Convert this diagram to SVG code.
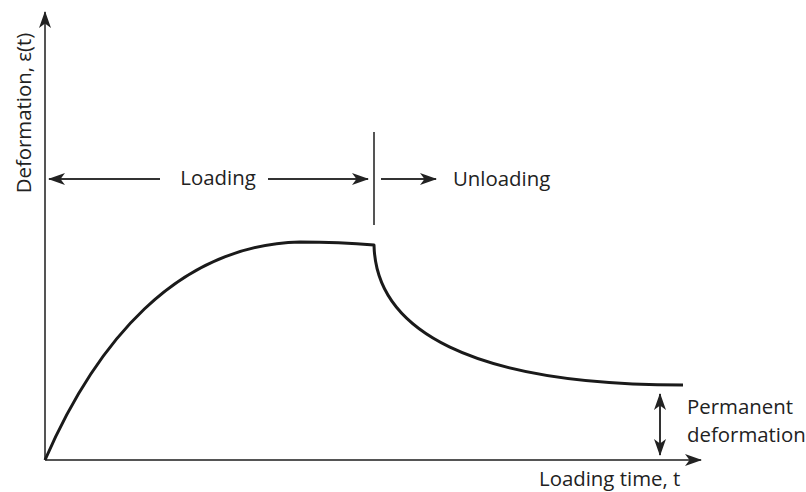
<svg xmlns="http://www.w3.org/2000/svg" width="806" height="492" viewBox="0 0 806 492">
<style>
.txt{font-family:"Open Sans","Liberation Sans",sans-serif;font-size:20.4px;fill:#222}
.axis{stroke:#555;stroke-width:2;fill:none}
.arr{stroke:#333;stroke-width:2;fill:none}
.curve{stroke:#1a1a1a;stroke-width:3;fill:none;stroke-linejoin:round}
</style>
<defs>
<marker id="ah" markerUnits="userSpaceOnUse" markerWidth="18" markerHeight="14" refX="16" refY="7" orient="auto-start-reverse" viewBox="0 0 18 14">
<path d="M0,1 L17,7 L0,13 L4.5,7 z" fill="#222"/>
</marker>
</defs>
<g id="axes">
<line class="axis" x1="45" y1="460" x2="45" y2="12" marker-end="url(#ah)"/>
<line class="axis" x1="45" y1="460" x2="701" y2="460" marker-end="url(#ah)"/>
</g>
<g id="connectors">
<line class="arr" x1="160" y1="179" x2="49" y2="179" marker-end="url(#ah)"/>
<line class="arr" x1="268" y1="179" x2="368" y2="179" marker-end="url(#ah)"/>
<line class="axis" x1="374" y1="132" x2="374" y2="225"/>
<line class="arr" x1="381" y1="179" x2="436" y2="179" marker-end="url(#ah)"/>
<line class="arr" x1="660" y1="394" x2="660" y2="455" marker-start="url(#ah)" marker-end="url(#ah)"/>
</g>
<g id="curve">
<path class="curve" d="M45,460 C95,345 175,245 300,242 Q340,242 374,245 C376,330 470,385 683,385"/>
</g>
<g id="labels">
<text class="txt" x="218" y="185" text-anchor="middle">Loading</text>
<text class="txt" x="453" y="186">Unloading</text>
<text class="txt" x="539" y="486">Loading time, t</text>
<text class="txt" x="687" y="414">Permanent</text>
<text class="txt" x="687" y="442">deformation</text>
<text class="txt" transform="translate(31,113) rotate(-90)" text-anchor="middle">Deformation, ε(t)</text>
</g>
</svg>
